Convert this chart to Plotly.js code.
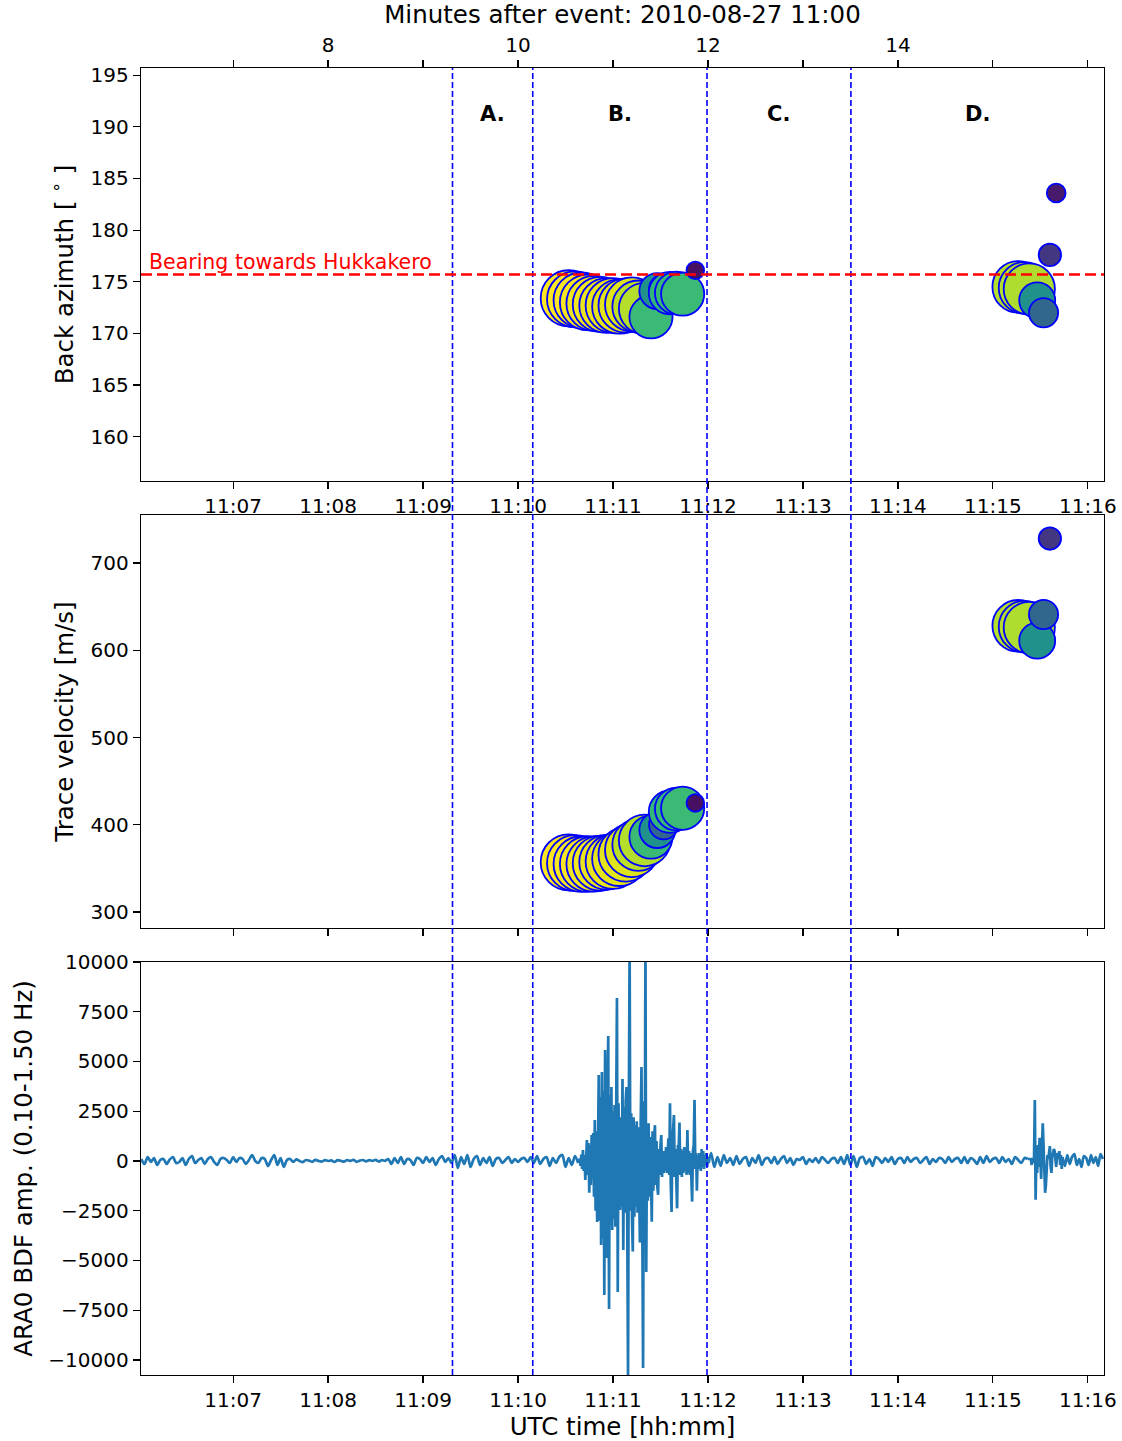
<!DOCTYPE html>
<html>
<head>
<meta charset="utf-8">
<script src="https://cdn.plot.ly/plotly-3.0.1.min.js"></script>
<style>html,body{margin:0;padding:0;background:#fff;}#plot{width:1122px;height:1441px;}</style>
</head>
<body>
<div id="plot"></div>
<script>
// ---------- DATA ----------
// array-processing detections: time (s after 11:00:00), back azimuth, trace velocity, coherence (colour)
const point_time_s = [632,636,640,644,648,652,656,660,664,668,672,676,680,684,688,692,696,700,704,712, 916,920,923,928,932,936,940];
const point_baz    = [173.4,173.3,173.2,173.0,172.9,172.8,172.7,172.7,172.6,172.7,172.8,172.6,172.4,171.6,174.1,174.3,173.9,173.9,173.8,176.1, 174.5,174.4,174.3,173.2,172.0,177.6,183.6];
const point_vel    = [357,356,355,355,355,356,357,358,361,366,371,377,382,386,394,400,415,418,419,425, 628,627,626,611,641,728,null];
const point_coh    = [1.0,1.0,0.99,0.99,0.98,0.98,0.97,0.97,0.96,0.96,0.95,0.9,0.89,0.68,0.5,0.33,0.66,0.67,0.68,0.04, 0.89,0.89,0.88,0.5,0.33,0.16,0.07];

const bearing_hukkakero = 175.7;
const phase_bounds_min = [9.31, 10.155, 11.99, 13.505];
const phase_labels = ['A.', 'B.', 'C.', 'D.'];

const utc_tick_min = [7,8,9,10,11,12,13,14,15,16];
const utc_tick_text = ['11:07','11:08','11:09','11:10','11:11','11:12','11:13','11:14','11:15','11:16'];
const minute_tick_min = [8,10,12,14];
const minute_tick_text = ['8','10','12','14'];
const minute_minor_min = [7,9,11,13,15,16];
const baz_ticks = [160,165,170,175,180,185,190,195];
const vel_ticks = [300,400,500,600,700];
const amp_ticks = [-10000,-7500,-5000,-2500,0,2500,5000,7500,10000];

// waveform (ARA0 BDF, 0.10-1.50 Hz), pieces sampled at regular intervals
const wave_quiet1 = [
 100,-150,200,-50,150,-200,50,100,-150,80,200,-100,-50,150,-200,100,250,-100,50,150,
 -150,100,200,-50,-200,100,150,50,-100,200,-50,150,100,-150,50,300,0,-100,150,100,
 -250,50,300,-200,150,-300,50,100,-50,80,0,-60,50,20,-40,60,0,-30,40,0,
 30,-50,40,10,-30,50,0,60,-40,20,50,-20,40,0,60,-30,50,10,100,-150,
 150,-100,200,-150,100,50,-200,150,100,-100,200,-50,150,-200,100,250,-50,150,-100,300,
 -350,200,-150,300,-300,100,250,-200,150,-100,200,-250,100,150,-100,50,200,-100,100,-50,
 100,150,-50,200,-100,250,-150,100,200,-250,150,-100,200,300,-300,150,-200,250,-100];
const wave_burstB = [
 120,-250,320,-400,550,-500,300,-950,600,1050,
 -700,900,-1600,800,-1200,1300,-900,1400,
 -1800,2060,-2500,1500,-3070,2800,4320,-3000,3200,-4220,4470,-3900,
 3500,-6730,5580,-3800,-4870,3600,6280,-7440,3300,-3200,
 3720,-3470,2500,-2900,2810,-3300,2600,8190,-6580,2900,
 -2000,-2460,2200,-2300,4120,-4470,2700,-2600,3000,3720,
 -3000,-11000,2500,11000,-2500,2400,-2900,-4550,2200,-2800,
 1800,-2300,2000,-2600,1700,-2200,-4100,1900,4720,-3000,
 -10400,3000,-2000,11000,-5580,1500,-2000,1890,-1800,1200,
 -1500,-3050,1500,-1500,1200,1800,-1200,1000,-1300,-1700,
 600,-700,800,1300,-800,500,-600,500,-500,700,
 -600,500,1140,-700,2900,-1200,-2560,900,1500,2310,
 -800,600,-1000,-2380,800,600,1930,-700,600,-800,
 500,-600,700,-500,400,-700,1560,-600,500,-700,
 400,-800,-2040,500,800,3070,-400,400,-1490,300,
 -400,400,200,-500,600,-300,500,-400,300,-200,400,-300,200,-100,150];
const wave_quiet2 = [
 400,-300,200,-250,300,-100,150,-200,250,-150,100,200,-250,150,-100,300,-200,100,150,-100,
 200,-150,100,250,-100,150,-200,100,50,200,-150,100,-50,150,-100,200,50,-100,100,150,
 -100,200,-150,300,-200,250,-300,150,200,-150,100,-250,200,100,-100,150,-50,200,-150,100,
 150,-100,200,-50,100,150,-100,50,200,-150,100,-50,150,100,-100,200,-50,100,150,-100,
 200,-100,150,50,-150,200,-100,250,-50,100,150,-100,200,-50,100,-150,200,50,-100,150,
 100];
const wave_burstD = [100,-200,150,-100,200,3070,-1950,500,-600,800,-300,1160,300,-900,600,1900,800,-1000,-1600,-1200,
 -400,300,100,500,750,-300,-600,200,400,600,500,-100,-300,200,400,100,500,-200,300,-400,200];
const wave_quiet3 = [-250,300,-150,200,350,-200,100,-300,250,150,-200,300,-100,200,-250,350,100];
// sampling of each piece: start (s after 11:00:00), interval (s), smooth drawing for quiet noise
const wave_pieces = [
 {vals: wave_quiet1, t0: 362, dt: 2, smooth: true},
 {vals: wave_burstB, t0: 639, dt: 0.5, smooth: false},
 {vals: wave_quiet2, t0: 722, dt: 2, smooth: true},
 {vals: wave_burstD, t0: 924, dt: 0.5, smooth: false},
 {vals: wave_quiet3, t0: 945.5, dt: 1.5, smooth: true}];

// ---------- BUILD ----------
const FONT = 'DejaVu Sans';
const XR = [6.03, 16.17];
const point_min = point_time_s.map(t => t / 60);
const point_size = point_coh.map(c => 16 + 40 * c);
const marker = {size: point_size, color: point_coh, colorscale: 'Viridis', cmin: 0, cmax: 1,
  line: {color: '#0000ff', width: 1.8}, opacity: 1};

const traces = [
 {type: 'scatter', mode: 'markers', x: point_min, y: point_baz, xaxis: 'x2', yaxis: 'y', marker: marker, showlegend: false, hoverinfo: 'skip'},
 {type: 'scatter', mode: 'markers', x: point_min, y: point_vel, xaxis: 'x3', yaxis: 'y2', marker: marker, showlegend: false, hoverinfo: 'skip'}
];
let prev = null;
wave_pieces.forEach(p => {
  const xs = [], ys = [];
  if (prev) { xs.push(prev[0]); ys.push(prev[1]); }
  p.vals.forEach((v, i) => { xs.push((p.t0 + i * p.dt) / 60); ys.push(v); });
  prev = [xs[xs.length - 1], ys[ys.length - 1]];
  traces.push({type: 'scatter', mode: 'lines', x: xs, y: ys, xaxis: 'x', yaxis: 'y3',
    line: {color: '#1f77b4', width: 2.7, shape: p.smooth ? 'spline' : 'linear', smoothing: 0.8},
    showlegend: false, hoverinfo: 'skip'});
});
traces.push({type: 'scatter', mode: 'markers', x: [XR[0]], y: [190], xaxis: 'x4', yaxis: 'y', marker: {opacity: 0}, showlegend: false, hoverinfo: 'skip'});

const axBase = {showline: true, linecolor: '#000', linewidth: 1.3, mirror: true, ticks: 'outside', ticklen: 7, tickwidth: 1.2,
  tickcolor: '#000', showgrid: false, zeroline: false, tickfont: {family: FONT, size: 20, color: '#000'}};
const titleFont = {family: FONT, size: 24.5, color: '#000'};

const shapes = [];
phase_bounds_min.forEach(xv => shapes.push({type: 'line', xref: 'x', yref: 'paper', x0: xv, x1: xv, y0: 0, y1: 1,
  line: {color: '#0000ff', width: 1.6, dash: '6px,3px'}, layer: 'above'}));
shapes.push({type: 'line', xref: 'x2 domain', yref: 'y', x0: 0, x1: 1, y0: bearing_hukkakero, y1: bearing_hukkakero,
  line: {color: '#ff0000', width: 2.6, dash: '11px,5px'}, layer: 'above'});

const bounds_ext = phase_bounds_min.concat([XR[1]]);
const annotations = phase_labels.map((lab, i) => ({xref: 'x2', yref: 'y', x: (bounds_ext[i] + bounds_ext[i + 1]) / 2, y: 191.2,
  text: '<b>' + lab + '</b>', showarrow: false, font: {family: FONT, size: 21, color: '#000'}}));
annotations.push({xref: 'x2 domain', yref: 'y', x: 0.006, y: bearing_hukkakero, xanchor: 'left', yanchor: 'bottom', yshift: -1,
  text: 'Bearing towards Hukkakero', showarrow: false, font: {family: FONT, size: 20.5, color: '#ff0000'}});

const layout = {
 width: 1122, height: 1441, paper_bgcolor: '#fff', plot_bgcolor: '#fff',
 margin: {l: 141, r: 18, t: 68, b: 66}, showlegend: false, font: {family: FONT, color: '#000'},
 xaxis: Object.assign({}, axBase, {domain: [0, 1], anchor: 'y3', range: XR, tickvals: utc_tick_min, ticktext: utc_tick_text,
   title: {text: 'UTC time [hh:mm]', font: titleFont, standoff: 6}}),
 xaxis2: Object.assign({}, axBase, {domain: [0, 1], anchor: 'y', range: XR, tickvals: utc_tick_min, ticktext: utc_tick_text}),
 xaxis3: Object.assign({}, axBase, {domain: [0, 1], anchor: 'y2', range: XR, tickvals: utc_tick_min, showticklabels: false}),
 xaxis4: Object.assign({}, axBase, {overlaying: 'x2', side: 'top', anchor: 'y', range: XR, tickvals: minute_tick_min, ticktext: minute_tick_text,
   minor: {tickvals: minute_minor_min, ticks: 'outside', ticklen: 7, tickwidth: 1.2, tickcolor: '#000', showgrid: false},
   title: {text: 'Minutes after event: 2010-08-27 11:00', font: titleFont, standoff: 4}}),
 yaxis: Object.assign({}, axBase, {domain: [0.684, 1], range: [155.7, 195.7], tickvals: baz_ticks,
   title: {text: 'Back azimuth [ <sup>∘</sup> ]', font: titleFont, standoff: 10}}),
 yaxis2: Object.assign({}, axBase, {domain: [0.342, 0.658], range: [281.7, 755], tickvals: vel_ticks,
   title: {text: 'Trace velocity [m/s]', font: titleFont, standoff: 10}}),
 yaxis3: Object.assign({}, axBase, {domain: [0, 0.316], range: [-10754, 10000], tickvals: amp_ticks, tickformat: 'd',
   title: {text: 'ARA0 BDF amp. (0.10-1.50 Hz)', font: titleFont, standoff: 8}}),
 shapes: shapes, annotations: annotations
};

Plotly.newPlot('plot', traces, layout, {staticPlot: true, displayModeBar: false});
</script>
</body>
</html>
